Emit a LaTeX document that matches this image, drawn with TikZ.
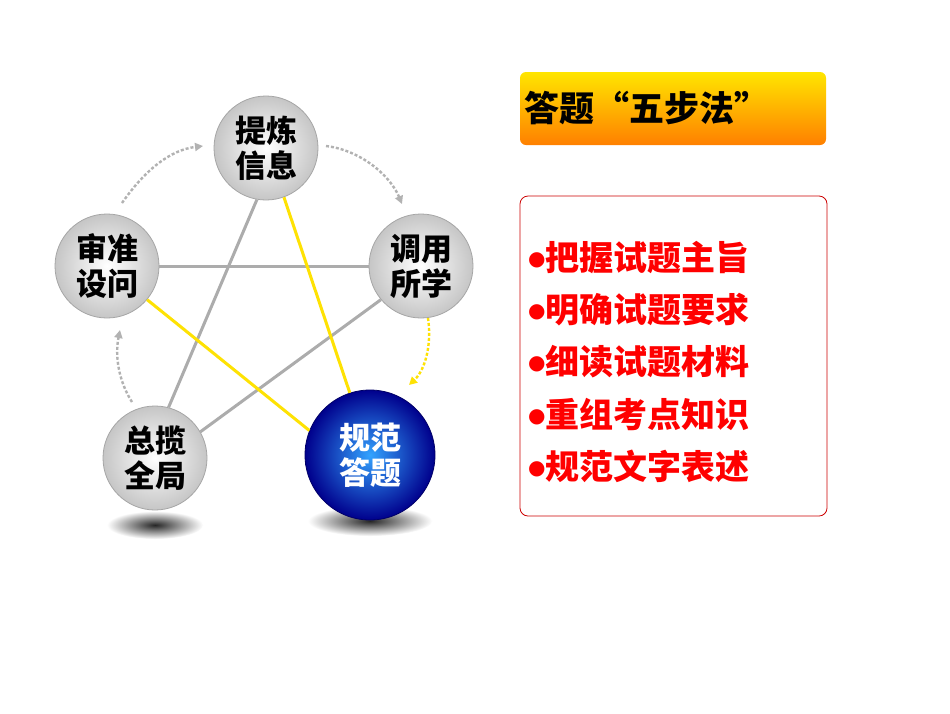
\documentclass[tikz,border=0pt]{standalone}
\usepackage{fontspec}
\newfontfamily\cjk{Noto Sans CJK SC}
\newfontfamily\djv{DejaVu Sans}
\usetikzlibrary{arrows.meta,shadings}
\begin{document}
\begin{tikzpicture}[x=1pt,y=-1pt,
  ballnode/.style={circle,minimum size=104pt,inner sep=0pt,inner color=white,outer color=gray!45,draw=gray!70,line width=0.8pt,font=\cjk\bfseries\fontsize{31}{35}\selectfont,align=center,text=black},
  bluenode/.style={ballnode,minimum size=130pt,inner color=blue!45!cyan!80,outer color=blue!55!black,draw=blue!40!black,text=white},
  gline/.style={draw=gray!65,line width=3pt},
  yline/.style={draw=yellow!85!orange,line width=3pt},
  darr/.style={draw=gray!60,line width=2.4pt,dash pattern=on 3pt off 2pt,-{Triangle[length=8pt,width=8pt]}},
  redtext/.style={text=red,font=\cjk\bfseries\fontsize{34}{38}\selectfont,anchor=west,inner sep=0pt}]
\useasboundingbox (0,0) rectangle (950,713);
\fill[white] (0,0) rectangle (950,713);
\shade[inner color=black!85,outer color=white] (155,525) ellipse (48pt and 14pt);
\shade[inner color=black!85,outer color=white] (370,521) ellipse (62pt and 15pt);
\node[ballnode] (tl) at (266,148) {提炼\\信息};
\node[ballnode] (sz) at (107,266) {审准\\设问};
\node[ballnode] (dy) at (421,266) {调用\\所学};
\node[ballnode] (zl) at (155,458) {总揽\\全局};
\node[bluenode] (gf) at (370,455) {规范\\答题};
\path[gline] (sz.east) -- (dy.west);
\path[gline] (tl.-100) -- (zl.75);
\path[gline] (dy.-140) -- (zl.30);
\path[yline] (tl.-70) -- (gf.108);
\path[yline] (sz.-40) -- (gf.158);
\coordinate (a1) at (122,203); \coordinate (a2) at (203,146);
\draw[darr] (a1) .. controls (145,170) and (170,150) .. (a2);
\coordinate (b1) at (326,146); \coordinate (b2) at (402,204);
\draw[darr] (b1) .. controls (360,150) and (390,175) .. (b2);
\coordinate (c1) at (132,402); \coordinate (c2) at (120,330);
\draw[darr] (c1) .. controls (118,380) and (115,355) .. (c2);
\coordinate (d1) at (428,318); \coordinate (d2) at (409,385);
\draw[darr,draw=yellow!85!orange] (d1) .. controls (432,345) and (425,370) .. (d2);
\shade[top color=yellow!80!orange,bottom color=orange,rounded corners=6pt] (520,72) rectangle (826,145);
\node[font=\cjk\bfseries\fontsize{35}{38}\selectfont,anchor=west,inner sep=0pt] (title) at (524,108) {答题“五步法”};
\draw[red!80!black,line width=0.8pt,rounded corners=8pt] (520,196) rectangle (827,516);
\foreach \t [count=\i] in {把握试题主旨,明确试题要求,细读试题材料,重组考点知识,规范文字表述}{
  \node[redtext] (l\i) at (528,258+52*\i-52) {\raisebox{5pt}{\djv\fontsize{20}{20}\selectfont ●}\t};
}
\end{tikzpicture}
\end{document}
